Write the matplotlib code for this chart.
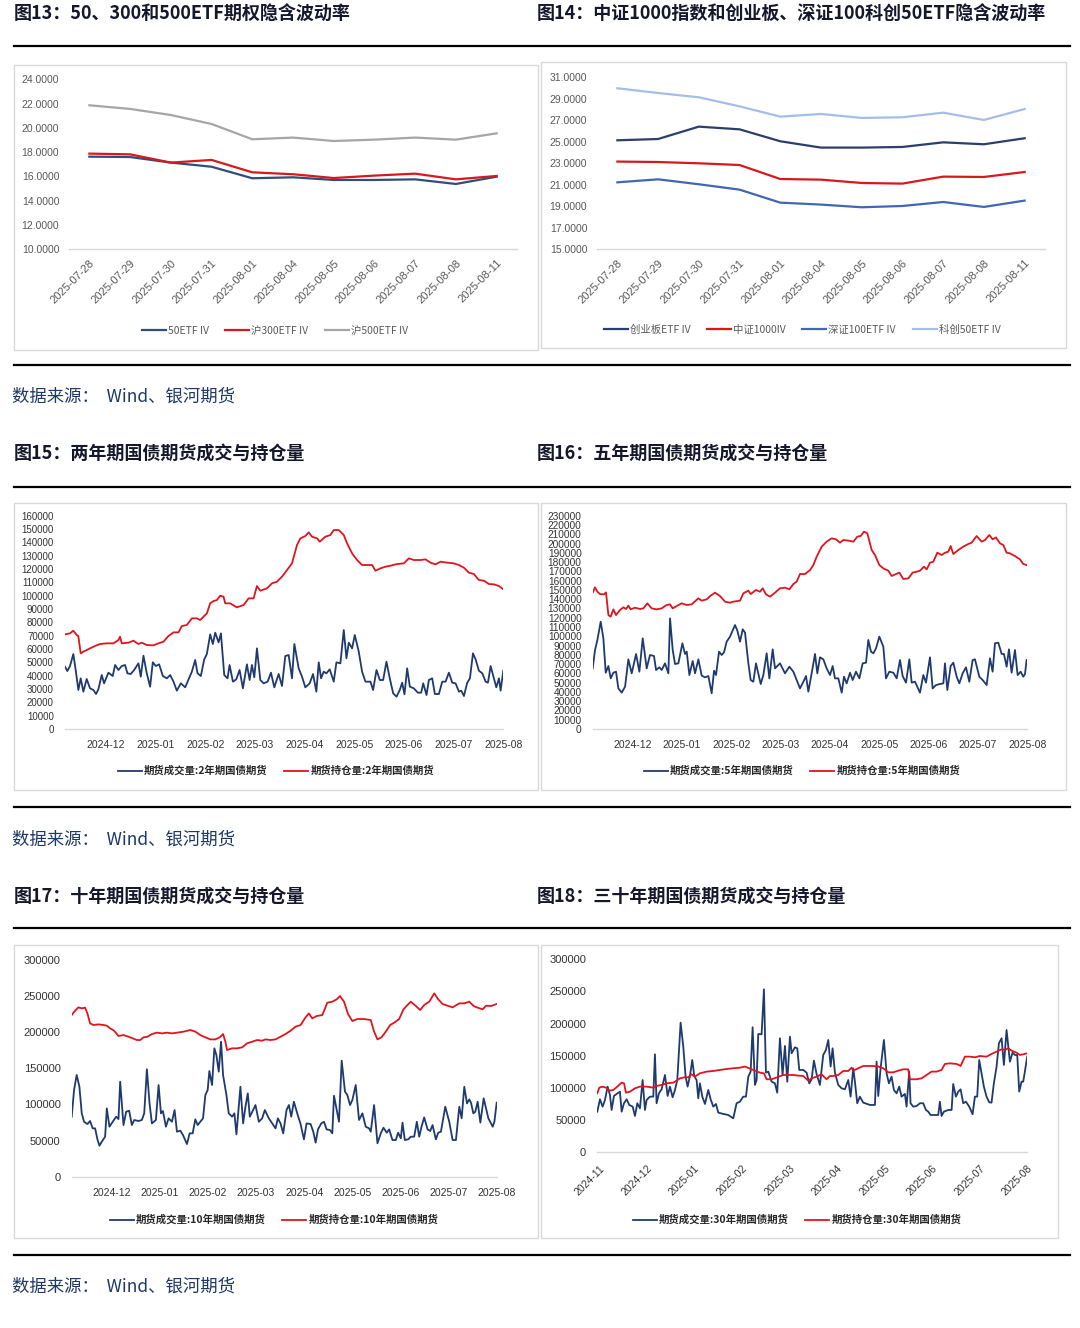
import numpy as np
import matplotlib
matplotlib.use('Agg')
from matplotlib import pyplot as plt
from matplotlib.patches import Rectangle
from matplotlib.lines import Line2D
from matplotlib.font_manager import FontProperties

plt.rcParams['font.family'] = ['Noto Sans CJK SC', 'DejaVu Sans']

### dane: wykresy zmienności implikowanej (IV)
iv_dates = ['2025-07-28', '2025-07-29', '2025-07-30', '2025-07-31', '2025-08-01', '2025-08-04',
            '2025-08-05', '2025-08-06', '2025-08-07', '2025-08-08', '2025-08-11']
iv_50 = [17.63, 17.60, 17.14, 16.80, 15.85, 15.93, 15.71, 15.71, 15.76, 15.38, 15.98]
iv_300 = [17.88, 17.82, 17.14, 17.36, 16.34, 16.18, 15.87, 16.07, 16.23, 15.76, 16.04]
iv_500 = [21.86, 21.56, 21.06, 20.32, 19.06, 19.20, 18.92, 19.03, 19.20, 19.03, 19.55]
iv_cyb = [25.14, 25.26, 26.41, 26.16, 25.05, 24.46, 24.46, 24.52, 24.95, 24.77, 25.33]
iv_zz1000 = [23.16, 23.12, 23.00, 22.84, 21.54, 21.48, 21.17, 21.11, 21.76, 21.73, 22.19]
iv_sz100 = [21.23, 21.51, 21.05, 20.55, 19.34, 19.16, 18.91, 19.03, 19.40, 18.94, 19.53]
iv_kc50 = [29.98, 29.54, 29.14, 28.30, 27.34, 27.59, 27.22, 27.28, 27.71, 27.03, 28.05]

### dane: kontrakty na obligacje (czas w miesiącach, 0 = pierwsza etykieta osi)
months_a = ['2024-12', '2025-01', '2025-02', '2025-03', '2025-04', '2025-05', '2025-06', '2025-07', '2025-08']
months_b = ['2024-11'] + months_a

# 2-letnie
t2_oi = [-0.827, -0.726, -0.659, -0.592, -0.558, -0.511, -0.457, -0.323, -0.222, -0.121, 0.013, 0.148, 0.249, 0.282,
         0.316, 0.450, 0.551, 0.652, 0.719, 0.820, 0.955, 1.055, 1.156, 1.257, 1.358, 1.459, 1.526, 1.627, 1.728,
         1.829, 1.896, 1.963, 2.030, 2.097, 2.165, 2.232, 2.299, 2.366, 2.400, 2.501, 2.635, 2.770, 2.871, 2.971,
         3.039, 3.106, 3.240, 3.341, 3.442, 3.543, 3.644, 3.745, 3.845, 3.913, 4.013, 4.081, 4.148, 4.249, 4.303,
         4.417, 4.518, 4.585, 4.686, 4.787, 4.854, 4.955, 5.055, 5.156, 5.257, 5.358, 5.425, 5.526, 5.627, 5.728,
         5.862, 5.997, 6.097, 6.198, 6.333, 6.434, 6.534, 6.635, 6.736, 6.871, 7.005, 7.106, 7.207, 7.308, 7.408,
         7.509, 7.610, 7.711, 7.812, 7.913, 8.000]
oi2 = [71000, 71750, 73750, 70500, 69750, 56750, 58000, 60500, 62250, 63750, 64250, 64250, 66750, 69250, 64250,
       64750, 66250, 63750, 64750, 63000, 62750, 64250, 65500, 69750, 72500, 72500, 77250, 78000, 83000, 83000,
       81750, 84250, 86750, 94250, 96000, 96750, 100000, 99250, 94250, 94250, 91250, 93000, 98000, 98000, 107250,
       103750, 105500, 109250, 110500, 114250, 119250, 124250, 138000, 143000, 144750, 147500, 144250, 143000,
       140500, 144250, 145500, 149250, 149250, 145500, 139250, 131750, 126750, 123000, 123000, 123000, 118750,
       120500, 121750, 122500, 123750, 124250, 128000, 126750, 126750, 127250, 124750, 123500, 125500, 124750,
       124250, 123000, 121000, 117250, 116250, 111750, 111250, 108750, 108500, 107250, 104750]
t2_vol = [-0.827, -0.780, -0.726, -0.659, -0.612, -0.558, -0.511, -0.457, -0.390, -0.323, -0.255, -0.202, -0.155,
          -0.087, -0.040, 0.047, 0.134, 0.182, 0.249, 0.316, 0.383, 0.430, 0.497, 0.565, 0.652, 0.699, 0.753, 0.820,
          0.887, 0.941, 1.002, 1.069, 1.143, 1.224, 1.291, 1.358, 1.425, 1.506, 1.593, 1.661, 1.728, 1.795, 1.842,
          1.909, 1.977, 2.030, 2.097, 2.151, 2.198, 2.266, 2.313, 2.380, 2.447, 2.487, 2.555, 2.622, 2.689, 2.756,
          2.837, 2.891, 2.938, 2.985, 3.039, 3.106, 3.173, 3.254, 3.321, 3.388, 3.476, 3.543, 3.610, 3.677, 3.745,
          3.792, 3.879, 3.946, 4.013, 4.101, 4.168, 4.235, 4.283, 4.330, 4.383, 4.437, 4.504, 4.585, 4.639, 4.719,
          4.787, 4.841, 4.888, 4.955, 5.009, 5.089, 5.156, 5.224, 5.324, 5.378, 5.446, 5.513, 5.580, 5.647, 5.714,
          5.782, 5.849, 5.916, 5.963, 6.010, 6.064, 6.118, 6.198, 6.279, 6.346, 6.387, 6.454, 6.501, 6.568, 6.622,
          6.703, 6.770, 6.837, 6.904, 6.972, 7.039, 7.106, 7.153, 7.207, 7.274, 7.328, 7.389, 7.442, 7.509, 7.577,
          7.644, 7.691, 7.745, 7.812, 7.859, 7.913, 7.946, 8.000]
vol2 = [46750, 43500, 47250, 56250, 44250, 29250, 38000, 28000, 37500, 30500, 29250, 26250, 29750, 40500, 34250,
        42250, 39750, 48000, 44250, 47250, 48000, 41750, 41250, 44250, 49250, 39250, 55000, 41750, 31750, 50000,
        47250, 48500, 39750, 38000, 40500, 35500, 28750, 34250, 31250, 37250, 43000, 51750, 41750, 39750, 52250,
        56250, 71000, 63750, 72250, 65000, 71750, 40500, 38000, 48000, 35500, 37250, 44250, 30500, 48500, 36750,
        48000, 38750, 60500, 36750, 34250, 35500, 42250, 31250, 41250, 32250, 54750, 55500, 38000, 63750, 45500,
        39250, 31250, 34250, 41250, 28000, 50000, 38000, 43000, 41750, 44750, 35500, 50000, 49250, 74250, 53000,
        64750, 60500, 70500, 58000, 43000, 35500, 35500, 29250, 44250, 36750, 36750, 50500, 38000, 26750, 24250,
        29250, 34750, 26000, 45500, 31750, 30500, 27250, 27250, 34250, 25500, 36750, 38000, 26250, 26250, 35500,
        35500, 42250, 34750, 34250, 28000, 28750, 24750, 34750, 38000, 56750, 52250, 43750, 41750, 35500, 34750,
        47250, 38000, 31250, 38000, 28750, 43750]

# 5-letnie
t5_oi = [-0.811, -0.764, -0.716, -0.662, -0.581, -0.541, -0.493, -0.446, -0.392, -0.338, -0.257, -0.189, -0.135,
         -0.088, -0.041, 0.047, 0.149, 0.216, 0.297, 0.385, 0.486, 0.588, 0.689, 0.757, 0.811, 0.892, 0.993, 1.095,
         1.196, 1.331, 1.399, 1.500, 1.581, 1.669, 1.770, 1.872, 1.973, 2.041, 2.176, 2.243, 2.345, 2.392, 2.500,
         2.581, 2.635, 2.703, 2.784, 2.885, 2.986, 3.088, 3.176, 3.257, 3.324, 3.392, 3.493, 3.595, 3.662, 3.730,
         3.831, 3.932, 4.034, 4.122, 4.203, 4.270, 4.372, 4.473, 4.554, 4.622, 4.689, 4.757, 4.845, 4.912, 5.000,
         5.081, 5.183, 5.250, 5.338, 5.406, 5.487, 5.588, 5.676, 5.757, 5.824, 5.906, 5.960, 6.027, 6.095, 6.176,
         6.264, 6.331, 6.399, 6.446, 6.500, 6.601, 6.703, 6.804, 6.872, 6.973, 7.074, 7.142, 7.230, 7.297, 7.365,
         7.446, 7.514, 7.581, 7.649, 7.750, 7.851, 7.919, 7.986]
oi5 = [147000, 152700, 148000, 145500, 145200, 147300, 122900, 121100, 129000, 122900, 128300, 131200, 129400,
       133000, 129000, 130800, 129400, 130100, 135500, 130100, 129000, 130100, 133700, 134400, 130100, 132600,
       135500, 133700, 134400, 140900, 138400, 139800, 143800, 147000, 143400, 137300, 136200, 137300, 138400,
       146300, 149200, 145500, 149900, 148000, 151700, 145200, 142700, 147000, 151700, 152400, 150600, 156300,
       158900, 167100, 167100, 171400, 176800, 185800, 196600, 202000, 205600, 204500, 200900, 203800, 203100,
       202000, 207400, 208100, 212800, 211000, 193000, 187600, 176800, 173200, 170700, 165000, 167100, 168600,
       161700, 162400, 168600, 169600, 170700, 175000, 172100, 179300, 180400, 190100, 187600, 190100, 191200,
       197300, 188700, 193000, 196600, 199500, 200900, 208100, 202000, 203800, 209200, 204500, 206600, 200200,
       198400, 190100, 189400, 186500, 182900, 177900, 176800]
t5_vol = [-0.811, -0.764, -0.716, -0.649, -0.595, -0.547, -0.493, -0.446, -0.392, -0.338, -0.291, -0.223, -0.155,
          -0.088, -0.020, 0.068, 0.135, 0.203, 0.284, 0.351, 0.432, 0.473, 0.541, 0.588, 0.655, 0.723, 0.757, 0.811,
          0.858, 0.926, 1.007, 1.061, 1.095, 1.149, 1.216, 1.264, 1.331, 1.399, 1.466, 1.534, 1.601, 1.649, 1.689,
          1.750, 1.804, 1.851, 1.905, 1.973, 2.074, 2.122, 2.176, 2.230, 2.277, 2.345, 2.392, 2.446, 2.500, 2.547,
          2.595, 2.649, 2.716, 2.770, 2.838, 2.885, 2.986, 3.088, 3.176, 3.257, 3.324, 3.392, 3.460, 3.514, 3.561,
          3.628, 3.696, 3.743, 3.797, 3.865, 3.932, 4.000, 4.054, 4.101, 4.169, 4.237, 4.284, 4.338, 4.406, 4.460,
          4.527, 4.595, 4.662, 4.730, 4.777, 4.831, 4.879, 4.933, 5.000, 5.081, 5.135, 5.203, 5.284, 5.352, 5.419,
          5.473, 5.541, 5.608, 5.656, 5.723, 5.824, 5.892, 5.946, 6.027, 6.081, 6.149, 6.230, 6.298, 6.331, 6.379,
          6.446, 6.500, 6.568, 6.622, 6.689, 6.757, 6.824, 6.892, 6.939, 7.027, 7.095, 7.176, 7.243, 7.297, 7.345,
          7.412, 7.480, 7.527, 7.581, 7.628, 7.682, 7.750, 7.804, 7.865, 7.919, 7.953, 7.986]
vol5 = [65400, 85200, 96000, 115700, 97800, 60700, 67900, 54600, 60700, 61800, 43800, 39200, 45600, 75100, 60000,
        80900, 61800, 97800, 65400, 79800, 78700, 63600, 66500, 63600, 70800, 60000, 119300, 85200, 70100, 70800,
        92400, 80900, 83400, 58200, 73300, 60000, 75100, 57500, 55700, 57100, 38500, 62900, 58200, 83400, 79800,
        82700, 94200, 99600, 112100, 106000, 94200, 107500, 103900, 70800, 52800, 51000, 70800, 60000, 48500, 58200,
        81600, 54600, 85900, 65400, 70800, 60000, 67200, 61800, 52800, 43800, 51000, 57100, 40300, 60000, 80900,
        60000, 77300, 75100, 65400, 58200, 67900, 54600, 54600, 39200, 56400, 49200, 60700, 52800, 61800, 54600,
        70800, 71500, 96000, 83400, 81600, 87000, 99600, 88800, 54600, 61800, 60700, 54600, 74400, 57100, 50000,
        75100, 50000, 51000, 39200, 58200, 50000, 77300, 43800, 47400, 48500, 49200, 70800, 42000, 67900, 71500,
        56400, 49200, 60000, 66500, 51000, 74400, 75100, 56400, 52800, 47400, 76200, 61800, 92400, 93100, 80900,
        80900, 67200, 85900, 60700, 85200, 58200, 61800, 56400, 59300, 74400]

# 10-letnie
t10_oi = [-0.834, -0.764, -0.695, -0.625, -0.556, -0.507, -0.452, -0.382, -0.278, -0.174, -0.104, -0.035, 0.049,
          0.139, 0.243, 0.347, 0.438, 0.521, 0.591, 0.660, 0.744, 0.834, 0.938, 1.042, 1.147, 1.251, 1.355, 1.494,
          1.633, 1.737, 1.841, 1.946, 2.050, 2.154, 2.245, 2.314, 2.363, 2.397, 2.502, 2.606, 2.710, 2.814, 2.919,
          3.023, 3.127, 3.197, 3.301, 3.405, 3.509, 3.613, 3.718, 3.822, 3.926, 4.030, 4.100, 4.169, 4.260, 4.378,
          4.482, 4.586, 4.677, 4.746, 4.830, 4.913, 5.003, 5.108, 5.246, 5.385, 5.455, 5.525, 5.608, 5.698, 5.789,
          5.872, 5.976, 6.066, 6.150, 6.219, 6.324, 6.414, 6.497, 6.602, 6.706, 6.789, 6.880, 6.984, 7.088, 7.227,
          7.331, 7.435, 7.526, 7.609, 7.713, 7.783, 7.887, 8.005]
oi10 = [223800, 229800, 234400, 233100, 234000, 226100, 212300, 210000, 210900, 210000, 209100, 205400, 202100,
        194800, 196100, 193800, 191500, 189200, 189200, 192900, 193800, 197500, 199400, 198400, 199400, 198400,
        199400, 200800, 203100, 200800, 196100, 192900, 190100, 190100, 192900, 197500, 186900, 175400, 177700,
        177700, 179100, 184600, 186900, 189200, 188300, 190100, 189200, 190100, 193800, 197500, 202100, 207700,
        210000, 220600, 226100, 219200, 222400, 223800, 240900, 242300, 245500, 250100, 242300, 225200, 215500,
        218300, 218300, 216900, 200800, 190100, 192900, 200800, 210000, 213200, 218300, 231700, 237700, 242300,
        236300, 230800, 237700, 242300, 253800, 245500, 239100, 236700, 234400, 240000, 240000, 242300, 236300,
        234000, 231700, 236700, 236300, 239100]
t10_vol = [-0.834, -0.785, -0.730, -0.674, -0.625, -0.577, -0.507, -0.452, -0.396, -0.347, -0.299, -0.257, -0.208,
           -0.139, -0.104, -0.049, 0.021, 0.090, 0.139, 0.174, 0.243, 0.299, 0.361, 0.417, 0.466, 0.556, 0.625,
           0.674, 0.730, 0.785, 0.834, 0.917, 0.973, 1.022, 1.063, 1.126, 1.181, 1.251, 1.306, 1.355, 1.425, 1.480,
           1.563, 1.619, 1.682, 1.737, 1.786, 1.841, 1.897, 1.946, 1.994, 2.029, 2.085, 2.133, 2.175, 2.224, 2.272,
           2.314, 2.384, 2.432, 2.502, 2.550, 2.592, 2.675, 2.731, 2.780, 2.828, 2.870, 2.939, 2.988, 3.058, 3.127,
           3.183, 3.266, 3.336, 3.405, 3.454, 3.509, 3.565, 3.634, 3.683, 3.732, 3.787, 3.857, 3.926, 3.996, 4.051,
           4.135, 4.190, 4.239, 4.288, 4.357, 4.413, 4.468, 4.538, 4.586, 4.621, 4.677, 4.725, 4.781, 4.850, 4.899,
           4.955, 5.003, 5.073, 5.142, 5.212, 5.281, 5.351, 5.386, 5.455, 5.525, 5.594, 5.650, 5.719, 5.768, 5.837,
           5.907, 5.955, 6.011, 6.046, 6.094, 6.164, 6.219, 6.289, 6.344, 6.393, 6.442, 6.497, 6.567, 6.622, 6.671,
           6.740, 6.789, 6.845, 6.935, 7.018, 7.088, 7.157, 7.227, 7.276, 7.331, 7.387, 7.435, 7.470, 7.519, 7.560,
           7.609, 7.665, 7.734, 7.783, 7.832, 7.922, 7.957, 8.005]
vol10 = [83100, 120000, 140800, 124600, 87700, 76100, 72900, 77100, 66900, 66900, 51700, 42900, 48500, 55400, 94600,
         69200, 76100, 83100, 79800, 131500, 71500, 90000, 91400, 71500, 78500, 77100, 78500, 87700, 148600, 101500,
         73800, 78500, 126900, 87700, 90900, 69200, 80800, 76100, 92300, 62300, 63700, 57700, 45200, 60000, 60000,
         79400, 71500, 76100, 80800, 113100, 120000, 146300, 126900, 177700, 168400, 145400, 186900, 140800, 113100,
         87700, 83100, 87700, 58600, 124600, 73800, 96900, 115400, 83100, 92300, 99200, 76100, 80800, 92300, 80800,
         73800, 66900, 80800, 73800, 60000, 92300, 99200, 83100, 103800, 87700, 72900, 51700, 73800, 72900, 62300,
         47100, 65500, 73800, 76100, 65500, 64600, 60000, 112100, 92300, 76100, 160600, 117700, 113100, 99200,
         106100, 126900, 78500, 87700, 69200, 66900, 62300, 99200, 46200, 60000, 67800, 60900, 65500, 50800, 50800,
         60900, 53100, 74800, 50800, 51700, 55400, 55400, 76100, 55400, 69200, 82100, 65500, 63200, 71500, 51700,
         60900, 62300, 96900, 76100, 50800, 50800, 96900, 80800, 124600, 101500, 107100, 102500, 87700, 90000,
         103800, 74800, 108500, 94600, 80800, 69200, 76100, 102500]

# 30-letnie (0 = 2024-11)
t30_oi = [-0.042, 0.000, 0.070, 0.140, 0.210, 0.294, 0.378, 0.470, 0.519, 0.561, 0.645, 0.750, 0.855, 0.995, 1.135,
          1.205, 1.310, 1.416, 1.556, 1.626, 1.696, 1.801, 1.871, 1.941, 2.011, 2.116, 2.257, 2.397, 2.537, 2.677,
          2.817, 2.957, 3.062, 3.154, 3.237, 3.378, 3.462, 3.518, 3.623, 3.742, 3.868, 4.079, 4.184, 4.289, 4.394,
          4.464, 4.569, 4.674, 4.779, 4.850, 4.920, 5.025, 5.130, 5.235, 5.305, 5.340, 5.445, 5.550, 5.655, 5.761,
          5.866, 5.971, 6.076, 6.181, 6.286, 6.391, 6.496, 6.531, 6.672, 6.777, 6.882, 6.987, 7.092, 7.197, 7.267,
          7.372, 7.513, 7.597, 7.688, 7.793, 7.898, 8.003, 8.143, 8.248, 8.354, 8.459, 8.529, 8.599, 8.669, 8.774,
          8.844, 8.914, 8.998]
oi30 = [91700, 100500, 102100, 100500, 95800, 96900, 102100, 108300, 107200, 92700, 94300, 99500, 102100, 102100,
        100500, 103100, 104700, 107200, 108300, 111400, 115000, 116600, 116600, 121200, 117600, 122800, 125400,
        126400, 128000, 129500, 130600, 131600, 133200, 130600, 128000, 123800, 122800, 113500, 113500, 116600,
        120200, 120200, 119200, 118600, 111400, 115000, 117600, 121200, 113500, 118600, 118600, 120200, 126400,
        126400, 131600, 126900, 130600, 134200, 134200, 134200, 133200, 130600, 124300, 124300, 126900, 129000,
        129000, 113500, 113500, 115000, 120200, 125400, 125400, 128000, 137300, 138300, 137300, 134200, 148700,
        148700, 147700, 149700, 148700, 152800, 156500, 160100, 159100, 161600, 158000, 154900, 151300, 152300,
        153900]
t30_vol = [-0.042, 0.014, 0.070, 0.119, 0.175, 0.224, 0.259, 0.308, 0.364, 0.434, 0.470, 0.519, 0.575, 0.631, 0.701,
           0.750, 0.799, 0.855, 0.911, 0.960, 0.995, 1.065, 1.135, 1.170, 1.205, 1.254, 1.310, 1.381, 1.437, 1.486,
           1.542, 1.591, 1.640, 1.710, 1.766, 1.815, 1.857, 1.906, 1.955, 1.997, 2.046, 2.081, 2.116, 2.166, 2.222,
           2.292, 2.341, 2.397, 2.453, 2.502, 2.607, 2.712, 2.817, 2.887, 2.957, 3.027, 3.084, 3.133, 3.182, 3.224,
           3.273, 3.308, 3.343, 3.413, 3.462, 3.504, 3.553, 3.623, 3.693, 3.742, 3.798, 3.854, 3.904, 3.953, 4.009,
           4.044, 4.114, 4.163, 4.205, 4.289, 4.359, 4.415, 4.464, 4.513, 4.569, 4.639, 4.709, 4.765, 4.815, 4.864,
           4.906, 4.955, 5.025, 5.095, 5.165, 5.235, 5.284, 5.340, 5.375, 5.424, 5.480, 5.550, 5.691, 5.796, 5.831,
           5.866, 5.915, 5.985, 6.041, 6.090, 6.146, 6.195, 6.251, 6.307, 6.356, 6.426, 6.461, 6.517, 6.545, 6.601,
           6.672, 6.742, 6.812, 6.868, 6.917, 6.966, 7.057, 7.127, 7.162, 7.197, 7.246, 7.337, 7.408, 7.442, 7.499,
           7.548, 7.597, 7.653, 7.709, 7.779, 7.849, 7.898, 7.947, 7.989, 8.038, 8.087, 8.143, 8.199, 8.248, 8.297,
           8.354, 8.403, 8.459, 8.508, 8.564, 8.634, 8.690, 8.739, 8.788, 8.830, 8.879, 8.914, 8.949, 8.998]
vol30 = [63200, 82400, 71000, 81300, 102100, 89100, 65800, 87600, 90700, 94300, 63200, 76200, 82400, 73600, 71000,
         56500, 76200, 68400, 112400, 65800, 81300, 86500, 86500, 152300, 76200, 91700, 97900, 120200, 87600, 102100,
         85500, 96900, 112400, 201500, 164200, 117600, 102100, 118600, 143500, 118600, 112400, 83900, 107200, 86500,
         75100, 96900, 82400, 71000, 75100, 61700, 59600, 58000, 52800, 76200, 78700, 86500, 86500, 117600, 125400,
         194300, 104700, 112400, 183900, 183400, 253300, 123800, 125400, 109800, 107200, 92700, 177200, 120200,
         165300, 109800, 179800, 153900, 163200, 161600, 128000, 128000, 123800, 107200, 113500, 142500, 121800,
         104700, 151300, 159100, 174600, 133200, 161600, 123800, 104700, 99500, 97900, 112400, 86500, 130600,
         109800, 76200, 86500, 77200, 73600, 73600, 140900, 87600, 130600, 174600, 122800, 107200, 117600, 96900,
         91700, 102100, 86500, 90700, 71000, 125400, 76200, 71000, 72000, 76200, 76200, 65800, 63200, 58000, 58000,
         58000, 78700, 56500, 63200, 65800, 65800, 106200, 86500, 94300, 97900, 76200, 78700, 71000, 59100, 86500,
         86500, 143500, 122800, 102100, 86500, 77700, 77200, 107200, 133200, 169400, 177200, 135700, 190100, 140900,
         154900, 151300, 151300, 94300, 109800, 109800, 125400, 148700]

### styl
W, H = 1080, 1328
NAVY = '#1F3A6E'
RED = '#E0141E'
GRID_GRAY = '#D9D9D9'
TICK_FONT = 'Liberation Sans'
CJK = ['Noto Sans CJK SC', 'DejaVu Sans']

fig = plt.figure(figsize=(W / 100, H / 100), dpi=100, facecolor='white')


def px_axes(x0, x1, ytop, ybot):
    return fig.add_axes([x0 / W, 1 - ybot / H, (x1 - x0) / W, (ybot - ytop) / H])


def frame(x0, x1, ytop, ybot):
    fig.add_artist(Rectangle((x0 / W, 1 - ybot / H), (x1 - x0) / W, (ybot - ytop) / H,
                             transform=fig.transFigure, fill=False, ec=GRID_GRAY, lw=1))


def rule(y):
    fig.add_artist(Line2D([14 / W, 1070 / W], [1 - y / H, 1 - y / H], transform=fig.transFigure,
                          color='black', lw=1.6))


def title(x, y, s):
    fig.text(x / W, 1 - y / H, s, ha='left', va='center', fontsize=13, fontweight='bold',
             family=CJK, color='#15172B')


def source(y):
    fig.text(12 / W, 1 - y / H, '数据来源：  Wind、银河期货', ha='left', va='center', fontsize=12.5,
             family=CJK, color='#1F3864')


def clean(ax):
    for s in ['top', 'right', 'left']:
        ax.spines[s].set_visible(False)
    ax.spines['bottom'].set_color(GRID_GRAY)
    ax.spines['bottom'].set_linewidth(1)
    ax.tick_params(length=0)
    ax.set_facecolor('none')


def legend(ax, cx, cy, size, bold, color):
    prop = FontProperties(family=CJK, size=size, weight='bold' if bold else 'normal')
    ax.legend(loc='center', bbox_to_anchor=(cx / W, 1 - cy / H), bbox_transform=fig.transFigure,
              ncol=4, frameon=False, prop=prop, handlelength=2.3, handletextpad=0.2,
              columnspacing=1.6, labelcolor=color)


def iv_panel(ax, series, lo, hi):
    x = np.arange(len(iv_dates))
    for vals, col, lab in series:
        ax.plot(x, vals, color=col, lw=1.6, label=lab)
    ax.set_xlim(-0.5, len(iv_dates) - 0.5)
    ax.set_ylim(lo, hi)
    ax.set_yticks(np.arange(lo, hi + 1, 2))
    ax.set_yticklabels([f'{v:.4f}' for v in np.arange(lo, hi + 1, 2)], family=TICK_FONT,
                       fontsize=7.5, color='#595959')
    ax.set_xticks(x)
    ax.set_xticklabels(iv_dates, rotation=45, ha='right', va='top', rotation_mode='anchor',
                       family=TICK_FONT, fontsize=8, color='#595959')
    ax.tick_params(axis='x', pad=6)
    ax.tick_params(axis='y', pad=7)
    clean(ax)


def fut_panel(ax, t_vol, vol, t_oi, oi, labels, ymax, ystep, xlim, ticklabels, ysize, xrot=False):
    n1 = min(len(t_vol), len(vol))
    n2 = min(len(t_oi), len(oi))
    ax.plot(t_vol[:n1], vol[:n1], color=NAVY, lw=1.3, label=labels[0])
    ax.plot(t_oi[:n2], oi[:n2], color=RED, lw=1.3, label=labels[1])
    ax.set_xlim(*xlim)
    ax.set_ylim(0, ymax)
    ticks = np.arange(0, ymax + 1, ystep)
    ax.set_yticks(ticks)
    ax.set_yticklabels([f'{int(v)}' for v in ticks], family=TICK_FONT, fontsize=ysize, color='#333333')
    ax.set_xticks(np.arange(len(ticklabels)))
    if xrot:
        ax.set_xticklabels(ticklabels, rotation=45, ha='right', va='top', rotation_mode='anchor',
                           family=TICK_FONT, fontsize=7.5, color='#333333')
    else:
        ax.set_xticklabels(ticklabels, family=TICK_FONT, fontsize=7.5, color='#333333')
    ax.tick_params(axis='x', pad=8)
    ax.tick_params(axis='y', pad=8)
    clean(ax)


### wiersz 1
title(14, 14, '图13：50、300和500ETF期权隐含波动率')
title(537, 14, '图14：中证1000指数和创业板、深证100科创50ETF隐含波动率')
rule(46)
frame(14, 538, 65, 350)
frame(541, 1066, 62, 348)

ax1 = px_axes(69, 517, 79.3, 249.3)
iv_panel(ax1, [(iv_50, '#2F4D7E', '50ETF IV'), (iv_300, '#D7191C', '沪300ETF IV'),
               (iv_500, '#A6A6A6', '沪500ETF IV')], 10, 24)
legend(ax1, 275, 331, 7.5, False, '#595959')

ax2 = px_axes(597, 1045, 77.3, 249.3)
iv_panel(ax2, [(iv_cyb, '#2C3E6B', '创业板ETF IV'), (iv_zz1000, '#D7191C', '中证1000IV'),
               (iv_sz100, '#4267B2', '深证100ETF IV'), (iv_kc50, '#A5BDE9', '科创50ETF IV')], 15, 31)
legend(ax2, 802, 330, 7.5, False, '#595959')

rule(365)
source(397)

### wiersz 2
title(14, 453, '图15：两年期国债期货成交与持仓量')
title(537, 453, '图16：五年期国债期货成交与持仓量')
rule(487)
frame(14, 538, 503, 790)
frame(541, 1066, 503, 790)

ax3 = px_axes(65, 503.3, 515.7, 729)
fut_panel(ax3, t2_vol, vol2, t2_oi, oi2, ['期货成交量:2年期国债期货', '期货持仓量:2年期国债期货'],
          160000, 10000, (-0.827, 8.0), months_a, 7)
legend(ax3, 276, 771, 7.5, True, '#262626')

ax4 = px_axes(592.7, 1027.3, 515.7, 729)
fut_panel(ax4, t5_vol, vol5, t5_oi, oi5, ['期货成交量:5年期国债期货', '期货持仓量:5年期国债期货'],
          230000, 10000, (-0.811, 7.99), months_a, 7.3)
legend(ax4, 802, 771, 7.5, True, '#262626')

rule(807)
source(840)

### wiersz 3
title(14, 896, '图17：十年期国债期货成交与持仓量')
title(537, 896, '图18：三十年期国债期货成交与持仓量')
rule(928)
frame(14, 538, 945, 1238)
frame(541, 1058, 945, 1238)

ax5 = px_axes(71.7, 496.7, 960, 1176.7)
fut_panel(ax5, t10_vol, vol10, t10_oi, oi10, ['期货成交量:10年期国债期货', '期货持仓量:10年期国债期货'],
          300000, 50000, (-0.834, 8.005), months_a, 8)
legend(ax5, 274, 1220, 7.5, True, '#262626')

ax6 = px_axes(597.3, 1027.3, 959.3, 1152.3)
fut_panel(ax6, t30_vol, vol30, t30_oi, oi30, ['期货成交量:30年期国债期货', '期货持仓量:30年期国债期货'],
          300000, 50000, (-0.042, 8.998), months_b, 8, xrot=True)
legend(ax6, 797, 1220, 7.5, True, '#262626')

rule(1255)
source(1287)

fig.savefig('out.png', dpi=100, facecolor='white')
